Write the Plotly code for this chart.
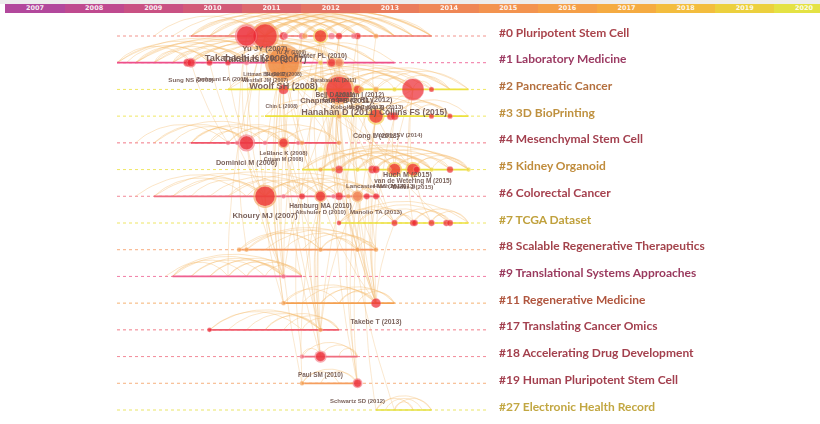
import math
import plotly.graph_objects as go

# ---------------- data ----------------
BAR_YEARS = list(range(2007, 2021))

CLUSTER_IDS = ["#0", "#1", "#2", "#3", "#4", "#5", "#6", "#7", "#8", "#9",
               "#11", "#17", "#18", "#19", "#27"]
CLUSTER_NAMES = ["Pluripotent Stem Cell", "Laboratory Medicine", "Pancreatic Cancer",
                 "3D BioPrinting", "Mesenchymal Stem Cell", "Kidney Organoid",
                 "Colorectal Cancer", "TCGA Dataset", "Scalable Regenerative Therapeutics",
                 "Translational Systems Approaches", "Regenerative Medicine",
                 "Translating Cancer Omics", "Accelerating Drug Development",
                 "Human Pluripotent Stem Cell", "Electronic Health Record"]

TIMELINE_FIRST_YEAR = 1999
TIMELINE_LAST_YEAR = 2019
ACTIVE_FROM = [2003, 1999, 2005, 2007, 2003, 2009, 2001, 2011, 2005.6, 2002, 2008, 2004, 2009, 2009, 2013]
ACTIVE_TO = [2016, 2014, 2018, 2018, 2011, 2018, 2013.2, 2018, 2013, 2009, 2014, 2011, 2012, 2012, 2016]

# nodes: cluster row, publication year, citation weight, colour tone
NODE_ROW = [0]*12 + [1]*9 + [2]*9 + [3]*6 + [4]*8 + [5]*13 + [6]*10 + [7]*7 + [8]*5 + [9] + [10]*2 + [11]*2 + [12]*2 + [13]*2
NODE_YEAR = [
    2006, 2007, 2008, 2008.1, 2009, 2009.15, 2010, 2010.6, 2011, 2011.8, 2012, 2013,
    2002.8, 2003, 2004, 2005, 2006, 2008, 2010, 2010.6, 2011,
    2008, 2010, 2011, 2012, 2012.2, 2013, 2014, 2015, 2016,
    2011, 2013, 2013.8, 2014, 2016, 2017,
    2005, 2005.5, 2006, 2007, 2008, 2008.8, 2009, 2011,
    2010, 2010.7, 2011, 2012, 2012.8, 2013, 2013.7, 2014, 2015, 2015.2, 2016, 2017, 2018,
    2007, 2008, 2009, 2010, 2010.7, 2011, 2011.5, 2012, 2012.5, 2013,
    2011, 2014, 2015, 2015.1, 2016, 2016.8, 2017,
    2005.6, 2006, 2010, 2012, 2013,
    2008,
    2008, 2013,
    2004, 2010,
    2009, 2010,
    2009, 2012,
]
NODE_CITES = [
    56, 86, 4, 1, 2, 1, 15, 2, 2, 1, 2, 0.5,
    4, 4, 1.5, 1, 0.5, 167, 0.3, 4, 4,
    8, 0.5, 104, 4, 1, 1, 0.3, 70, 0.5,
    0.5, 22, 4, 4, 0.5, 0.5,
    0.3, 0.3, 22, 0.3, 6, 0.3, 0.3, 0.3,
    0.3, 0.3, 4, 0.3, 4, 3, 0.3, 15, 15, 2, 0.3, 2, 0.3,
    56, 0.3, 1.5, 8, 0.3, 4, 0.3, 8, 1.5, 1.5,
    0.3, 1.5, 1.5, 1.5, 1.5, 1.5, 1.5,
    0.3, 0.3, 0.3, 0.3, 0.3,
    0.3,
    0.3, 8,
    0.3, 0.3,
    0.3, 8,
    0.3, 4,
]
NODE_TONE = [
    "red_p", "red_o", "red", "pink", "pink", "orange", "red_y", "pink", "red", "pink", "red", "orange",
    "red", "red_p", "red", "red", "pink", "orange_big", "yellow", "red_o", "orange_r",
    "red", "yellow", "red_o", "red_y", "orange", "orange", "yellow", "red", "red",
    "orange", "red_y", "red", "red", "red", "red",
    "pink", "pink", "red_p", "pink", "red_o", "pink", "orange", "orange",
    "orange", "orange", "red", "yellow", "red", "red", "orange", "red_y", "red_y", "red", "yellow", "red", "yellow",
    "red_o", "pink", "red", "red_o", "pink", "red", "orange", "orange_r", "red", "red",
    "red", "red", "red", "red", "red", "red", "red",
    "orange", "orange", "orange", "orange", "orange",
    "pink",
    "orange", "red",
    "red", "orange",
    "pink", "red_p",
    "orange", "red_p",
]

LABEL_TEXT = ["Yu JY (2007)", "Takahashi K (2006)", "Takahashi K (2007)", "Yu JY (2009)", "Hunter PL (2010)",
              "Sung NS (2003)", "Zerhouni EA (2005)", "Littman BH (2007)", "Butler D (2008)",
              "Westfall JM (2007)", "Woolf SH (2008)", "Barabasi AL (2011)",
              "Bell D (2011)", "Ardalan I (2012)", "Chapman PB (2011)", "Grossman RL (2012)",
              "Chin L (2008)", "Koboldt DC (2012)", "Vogelstein B (2013)", "Hanahan D (2011)",
              "Collins FS (2015)",
              "Cong L (2013)", "Murphy SV (2014)",
              "LeBlanc K (2008)", "Crisan M (2008)", "Dominici M (2006)",
              "Huch M (2015)", "van de Wetering M (2015)", "Lancaster MA (2014)", "Huch M (2013)",
              "Drost J (2015)",
              "Hamburg MA (2010)", "Altshuler D (2010)", "Manolio TA (2013)", "Khoury MJ (2007)",
              "Takebe T (2013)", "Paul SM (2010)", "Schwartz SD (2012)"]
LABEL_ROW = [0, 0, 0, 0, 0, 1, 1, 1, 1, 1, 1, 1, 2, 2, 2, 2, 2, 2, 2, 2, 2, 3, 3, 4, 4, 4,
             5, 5, 5, 5, 5, 6, 6, 6, 6, 10, 12, 13]
LABEL_YEAR = [2007, 2006, 2007, 2008.4, 2010, 2003, 2004.7, 2007, 2008, 2007, 2008, 2010.7,
              2010.8, 2012.1, 2010.85, 2012, 2007.9, 2012, 2013, 2011, 2015, 2013, 2014.2,
              2008, 2008, 2006, 2014.7, 2015, 2013, 2014, 2015, 2010, 2010, 2013, 2007,
              2013, 2010, 2012]

# co-citation links inside one cluster (row -> list of (year a, year b))
ARC_LINKS = {
    0: [(2006, 2007), (2006, 2008), (2006, 2009), (2006, 2010), (2006, 2011), (2006, 2012), (2006, 2013),
        (2006, 2015), (2007, 2008), (2007, 2009), (2007, 2010), (2007, 2011), (2007, 2012), (2007, 2013),
        (2007, 2014), (2007, 2016), (2008, 2010), (2008, 2011), (2008, 2013), (2009, 2011), (2009, 2012),
        (2010, 2012), (2010, 2013), (2010, 2015), (2011, 2013), (2003, 2007), (2004, 2007), (2004, 2010),
        (2005, 2008), (2003, 2011), (2005, 2012), (2008, 2016), (2009, 2014), (2003, 2009), (2004, 2012),
        (2005, 2010), (2006, 2014), (2008, 2014), (2001, 2007), (2002, 2010), (2003, 2014), (2005, 2016),
        (2006, 2016), (2007, 2015), (2008, 2012), (2009, 2013), (2010, 2014), (2011, 2016), (2004, 2015)],
    1: [(1999, 2003), (1999, 2006), (2000, 2004), (2000, 2008), (2001, 2005), (2001, 2008), (2002, 2006),
        (2003, 2004), (2003, 2005), (2003, 2008), (2003, 2010), (2004, 2006), (2004, 2008), (2005, 2008),
        (2005, 2011), (2006, 2008), (2008, 2010), (2008, 2011), (2008, 2013), (2006, 2011), (2003, 2011),
        (2002, 2009), (1999, 2008), (2000, 2010), (2001, 2011), (2002, 2012), (1999.5, 2004), (2000, 2006),
        (2001, 2003), (2002, 2004), (2003, 2006), (2004, 2011), (2005, 2013), (2008, 2014), (2006, 2013)],
    2: [(2005, 2008), (2007, 2011), (2008, 2011), (2008, 2012), (2010, 2011), (2011, 2012), (2011, 2013),
        (2011, 2015), (2012, 2015), (2013, 2015), (2011, 2016), (2012, 2017), (2009, 2015), (2015, 2016),
        (2014, 2017), (2008, 2015), (2006, 2011), (2010, 2017), (2005, 2013), (2007, 2015), (2009, 2013),
        (2011, 2018), (2013, 2018), (2012, 2014), (2008, 2017), (2006, 2016)],
    3: [(2007, 2011), (2011, 2013), (2011, 2014), (2013, 2014), (2013, 2016), (2013, 2017), (2014, 2017),
        (2009, 2013), (2012, 2015), (2014, 2018), (2015, 2017), (2008, 2014), (2010, 2016), (2011, 2017)],
    4: [(2001, 2006), (2002, 2006), (2003, 2008), (2004, 2006), (2005, 2008), (2006, 2008), (2006, 2009),
        (2006, 2011), (2007, 2009), (2008, 2011), (2000, 2005), (2003, 2007), (2001, 2008), (2004, 2009),
        (2003, 2006), (2005, 2009)],
    5: [(2009, 2013), (2010, 2014), (2011, 2013), (2011, 2014), (2011, 2015), (2012, 2015), (2013, 2014),
        (2013, 2015), (2013, 2017), (2014, 2015), (2014, 2016), (2014, 2018), (2015, 2017), (2015, 2018),
        (2012, 2016), (2010, 2015), (2016, 2018), (2013, 2016), (2009, 2016), (2011, 2017), (2010, 2018),
        (2009, 2018), (2010, 2016), (2012, 2018), (2011, 2016), (2012, 2014)],
    6: [(2000, 2007), (2001, 2006), (2002, 2007), (2003, 2007), (2005, 2009), (2006, 2010), (2007, 2009),
        (2007, 2010), (2007, 2011), (2007, 2012), (2008, 2011), (2009, 2012), (2010, 2012), (2010, 2013),
        (2011, 2013), (2004, 2010), (2008, 2013), (2012, 2013), (2001, 2009), (2002, 2011), (2005, 2013)],
    7: [(2011, 2014), (2011, 2015), (2012, 2015), (2013, 2016), (2014, 2015), (2014, 2016), (2014, 2017),
        (2015, 2017), (2015, 2018), (2016, 2017), (2016, 2018), (2012, 2017), (2011, 2018)],
    8: [(2005.6, 2010), (2006, 2010), (2006, 2012), (2008, 2012), (2010, 2012), (2010, 2013), (2012, 2013),
        (2007, 2013), (2009, 2013), (2005.6, 2013)],
    9: [(2002, 2006), (2002, 2008), (2003, 2007), (2003, 2008), (2004, 2008), (2004, 2009), (2005, 2008),
        (2005, 2009), (2006, 2009), (2002, 2005), (2006, 2008), (2007, 2009), (2001.6, 2009)],
    10: [(2008, 2013), (2009, 2013), (2010, 2013), (2010, 2014), (2011, 2013), (2012, 2014), (2008, 2011),
         (2011, 2014)],
    11: [(2004, 2009), (2004, 2010), (2005, 2010), (2007, 2010), (2007, 2011), (2008, 2011), (2009, 2011),
         (2006, 2010)],
    12: [(2009, 2010), (2009, 2012), (2010, 2012), (2011, 2012)],
    13: [(2009, 2012), (2010, 2012), (2009, 2011)],
    14: [(2013, 2015), (2013, 2016), (2014, 2016), (2013.5, 2015.5), (2014, 2015)],
}

# links between clusters (row a, year a, row b, year b)
CROSS_LINKS = [
    (0, 2007, 6, 2007), (0, 2007, 4, 2006), (0, 2006, 4, 2006), (1, 2008, 6, 2007), (1, 2008, 6, 2010),
    (1, 2008, 2, 2011), (0, 2010, 5, 2013), (0, 2010, 5, 2014), (0, 2007, 5, 2015), (0, 2006, 5, 2015),
    (2, 2011, 6, 2010), (2, 2011, 7, 2014), (2, 2011, 3, 2013), (2, 2015, 3, 2013), (2, 2015, 7, 2015),
    (3, 2013, 5, 2015), (3, 2013, 10, 2013), (3, 2013, 14, 2013), (0, 2010, 10, 2013), (0, 2008, 10, 2008),
    (1, 2008, 10, 2008), (6, 2007, 10, 2008), (1, 2008, 9, 2008), (6, 2009, 12, 2009), (6, 2010, 12, 2010),
    (2, 2011, 12, 2010), (1, 2008, 13, 2009), (6, 2010, 13, 2009), (2, 2012, 13, 2012), (3, 2013, 13, 2012),
    (2, 2011, 11, 2010), (6, 2010, 11, 2010), (0, 2009, 11, 2010), (4, 2008, 8, 2010), (0, 2010, 8, 2012),
    (6, 2012, 8, 2013), (0, 2006, 8, 2006), (5, 2013, 7, 2014), (5, 2015, 7, 2016), (5, 2014, 7, 2017),
    (6, 2011, 7, 2011), (2, 2011, 5, 2011), (2, 2011, 4, 2011), (1, 2011, 4, 2011), (0, 2011, 3, 2011),
    (1, 2011, 2, 2012), (0, 2011, 6, 2011), (2, 2008, 6, 2009), (1, 2008, 4, 2008), (0, 2007, 2, 2008),
    (0, 2008, 2, 2008), (1, 2006, 9, 2008), (6, 2012, 10, 2013), (6, 2013, 10, 2013), (7, 2014, 10, 2013),
    (0, 2012, 6, 2012), (2, 2012, 6, 2012), (1, 2008, 11, 2010), (4, 2011, 10, 2013), (1, 2008, 5, 2012),
    (0, 2007, 3, 2013), (1, 2008, 3, 2013), (2, 2011, 10, 2013), (6, 2007, 9, 2008), (4, 2006, 6, 2007),
    (0, 2009, 9, 2008), (0, 2010, 9, 2008), (1, 2011, 10, 2013), (2, 2012, 10, 2013), (2, 2013, 11, 2010),
    (3, 2014, 10, 2013), (0, 2012, 5, 2013), (0, 2011, 5, 2012), (2, 2010, 6, 2009), (1, 2010, 6, 2011),
    (0, 2010, 6, 2010), (2, 2011, 9, 2008), (3, 2011, 6, 2011), (4, 2008, 6, 2009), (4, 2009, 6, 2010),
    (1, 2008, 7, 2011), (2, 2011, 8, 2010), (3, 2013, 8, 2013), (0, 2013, 3, 2013), (2, 2015, 5, 2015),
    (2, 2015, 5, 2014), (3, 2014, 5, 2014), (5, 2013, 10, 2013), (6, 2013, 7, 2014), (1, 2005, 4, 2006),
    (1, 2003, 4, 2005), (0, 2007, 9, 2005), (1, 2004, 6, 2007), (6, 2012, 11, 2010), (6, 2010, 10, 2013),
    (2, 2011, 13, 2012), (6, 2012, 13, 2012), (4, 2006, 9, 2008), (1, 2008, 12, 2010), (0, 2010, 12, 2010),
    (2, 2011, 14, 2014),
]

# ---------------- styles ----------------
BAR_COLORS = ["#b2489c", "#bf4a8f", "#c95183", "#d25a77", "#dc676c", "#e47363", "#ea7c5b",
              "#ef8756", "#f3934f", "#f59f48", "#f5ab41", "#f3bd3e", "#ecd03e", "#e4e244"]
CLUSTER_COLORS = ["#a9434b", "#9c3b63", "#b4703f", "#bf913f", "#a3404f", "#c08c3c", "#a5404e",
                  "#c0a13d", "#a3434b", "#9a3a5e", "#b0563f", "#a3404f", "#a3404d", "#a3404f", "#c2a742"]
LINE_COLORS = ["#f07a72", "#ee4f8a", "#ede23e", "#ede23e", "#f0566a", "#ece23e", "#f06e80",
               "#ece03e", "#f6975e", "#ef5f90", "#f4a050", "#f05c6c", "#f06e80", "#f59e5e", "#e6e040"]
TONES = {  # core colour, ring colour
    "red": ("#ec2530", None), "red_p": ("#ec2530", "#f27b85"), "red_o": ("#ec2530", "#f3a15a"),
    "red_y": ("#ec2530", "#f5cd45"), "orange": ("#f4a052", None), "orange_r": ("#ef7a52", "#f6b766"),
    "orange_big": ("#f0883e", "#f4a55e"), "yellow": ("#f1d745", None), "pink": ("#f27487", None),
}
LABEL_DY = [13, 23, 24, 17, 20, 18, 17, 12, 12, 18, 24, 18, 6, 6, 12, 11, 17, 18, 18, 23, 23,
            20, 19, 11, 17, 20, 6, 12, 17, 17, 18, 10, 16, 16, 20, 19, 19, 18]
LABEL_SIZE = [7.5, 9, 9, 5, 6.5, 6, 5.6, 5, 5, 5.2, 8.8, 5, 6.5, 6.5, 7.5, 7, 5, 6, 5.8, 8.8, 8.2,
              6.8, 5.6, 5.8, 5.2, 7, 7, 6.3, 6, 6, 6, 6.5, 5.8, 6, 7.6, 6.7, 6.2, 5.8]
LABEL_SCALE = 1.03   # Liberation Sans Bold vs DejaVu Sans widths

W, H = 820, 424
PX_PER_YEAR = 18.5
X_2007 = 265.0
ROW_PX = 26.714
ROW0_PX = 36.0
BAR_PX_PER_YEAR = 59.15
BAR_2007 = 35.0


def xpx(year):
    return X_2007 + PX_PER_YEAR * (year - 2007)


def ypx(row):
    return ROW0_PX + ROW_PX * row


def to_year(px):
    return 2007 + (px - X_2007) / PX_PER_YEAR


def to_row(py):
    return (py - ROW0_PX) / ROW_PX


fig = go.Figure()
n_rows = len(CLUSTER_IDS)

# dotted full-length timelines
for r in range(n_rows):
    fig.add_trace(go.Scatter(x=[TIMELINE_FIRST_YEAR, TIMELINE_LAST_YEAR], y=[r, r], mode="lines",
                             line=dict(color=LINE_COLORS[r], width=1, dash="dot"),
                             opacity=0.8, hoverinfo="skip", showlegend=False))

# intra-cluster arcs
ax, ay = [], []
for r, links in ARC_LINKS.items():
    y0 = ypx(r)
    for a, b in links:
        xa, xb = xpx(a), xpx(b)
        c = abs(xb - xa)
        h = min(1.9 * math.sqrt(c), 28.0)
        R = (c * c / 4 + h * h) / (2 * h)
        phi = math.asin(min(1.0, c / (2 * R)))
        mid = (xa + xb) / 2
        cy = y0 + (R - h)
        n = 28
        for i in range(n + 1):
            t = -phi + 2 * phi * i / n
            ax.append(to_year(mid + R * math.sin(t)))
            ay.append(to_row(cy - R * math.cos(t)))
        ax.append(None)
        ay.append(None)
fig.add_trace(go.Scatter(x=ax, y=ay, mode="lines", line=dict(color="rgba(243,184,104,0.47)", width=0.8),
                         hoverinfo="skip", showlegend=False))

# cross-cluster curves
cx, cy_ = [], []
for ra, ya, rb, yb in CROSS_LINKS:
    x1, y1, x2, y2 = xpx(ya), ypx(ra), xpx(yb), ypx(rb)
    L = math.hypot(x2 - x1, y2 - y1)
    nx, ny = -(y2 - y1) / L, (x2 - x1) / L
    bend = 0.08 * L
    qx, qy = (x1 + x2) / 2 + nx * bend, (y1 + y2) / 2 + ny * bend
    n = 24
    for i in range(n + 1):
        t = i / n
        px = (1 - t) ** 2 * x1 + 2 * (1 - t) * t * qx + t * t * x2
        py = (1 - t) ** 2 * y1 + 2 * (1 - t) * t * qy + t * t * y2
        cx.append(to_year(px))
        cy_.append(to_row(py))
    cx.append(None)
    cy_.append(None)
fig.add_trace(go.Scatter(x=cx, y=cy_, mode="lines", line=dict(color="rgba(240,190,120,0.5)", width=0.7),
                         hoverinfo="skip", showlegend=False))

# active spans
for r in range(n_rows):
    fig.add_trace(go.Scatter(x=[ACTIVE_FROM[r], ACTIVE_TO[r]], y=[r, r], mode="lines",
                             line=dict(color=LINE_COLORS[r], width=1.7),
                             hoverinfo="skip", showlegend=False))

# nodes: rings then cores
order = sorted(range(len(NODE_YEAR)), key=lambda i: -NODE_CITES[i])
rx, ry, rs, rc = [], [], [], []
kx, ky, ks, kc = [], [], [], []
for i in order:
    rad = 1.8 + 1.1 * math.sqrt(NODE_CITES[i])
    core, ring = TONES[NODE_TONE[i]]
    if ring:
        factor = 1.25 if rad < 9 else 1.16
        rx.append(NODE_YEAR[i]); ry.append(NODE_ROW[i]); rs.append(2 * rad * factor); rc.append(ring)
    kx.append(NODE_YEAR[i]); ky.append(NODE_ROW[i]); ks.append(2 * rad); kc.append(core)
fig.add_trace(go.Scatter(x=rx, y=ry, mode="markers", marker=dict(size=rs, color=rc, line=dict(width=0)),
                         opacity=0.92, hoverinfo="skip", showlegend=False))
fig.add_trace(go.Scatter(x=kx, y=ky, mode="markers",
                         marker=dict(size=ks, color=kc, line=dict(width=0.6, color="rgba(255,255,255,0.55)")),
                         hoverinfo="skip", showlegend=False))

# node labels
fig.add_trace(go.Scatter(
    x=LABEL_YEAR, y=[LABEL_ROW[i] + LABEL_DY[i] / ROW_PX for i in range(len(LABEL_TEXT))],
    mode="text", text=LABEL_TEXT, textposition="middle center",
    textfont=dict(family="Liberation Sans", size=[s * LABEL_SCALE for s in LABEL_SIZE],
                  color="rgba(112,86,78,0.92)", weight="bold"),
    hoverinfo="skip", showlegend=False))

# year bar on top
fig.add_trace(go.Bar(x=BAR_YEARS, y=[1] * len(BAR_YEARS), width=1,
                     marker=dict(color=BAR_COLORS, line=dict(width=0)),
                     xaxis="x2", yaxis="y2", hoverinfo="skip", showlegend=False))
fig.add_trace(go.Scatter(x=BAR_YEARS, y=[0.5] * len(BAR_YEARS), mode="text", text=[str(y) for y in BAR_YEARS],
                         textfont=dict(family="DejaVu Sans", size=6.5, color="rgba(255,255,255,0.9)",
                                       weight="bold"),
                         xaxis="x2", yaxis="y2", hoverinfo="skip", showlegend=False))

# cluster labels
annotations = []
for r in range(n_rows):
    annotations.append(dict(x=TIMELINE_LAST_YEAR, y=r, xref="x", yref="y", xanchor="left", yanchor="middle",
                            xshift=10, yshift=4, showarrow=False,
                            text=f"{CLUSTER_IDS[r]} {CLUSTER_NAMES[r]}",
                            font=dict(family="Lato", size=12, color=CLUSTER_COLORS[r], weight="bold")))

fig.update_layout(
    width=W, height=H, margin=dict(l=0, r=0, t=0, b=0),
    paper_bgcolor="white", plot_bgcolor="white", bargap=0,
    xaxis=dict(range=[to_year(0), to_year(W)], visible=False, fixedrange=True),
    yaxis=dict(range=[to_row(H), to_row(0)], visible=False, fixedrange=True),
    xaxis2=dict(range=[2007 - BAR_2007 / BAR_PX_PER_YEAR, 2007 + (W - BAR_2007) / BAR_PX_PER_YEAR],
                visible=False, anchor="y2", overlaying="x", fixedrange=True),
    yaxis2=dict(range=[0, 1], domain=[1 - 13 / H, 1 - 4 / H], visible=False, anchor="x2", fixedrange=True),
    annotations=annotations,
    shapes=[dict(type="rect", xref="paper", yref="paper", x0=0, x1=1, y0=1 - 4 / H, y1=1,
                 fillcolor="#ededed", line=dict(width=0), layer="below")],
)

fig.write_html("out.html", config={"displayModeBar": False},
               post_script="document.body.style.margin='0';document.body.style.overflow='hidden';")
